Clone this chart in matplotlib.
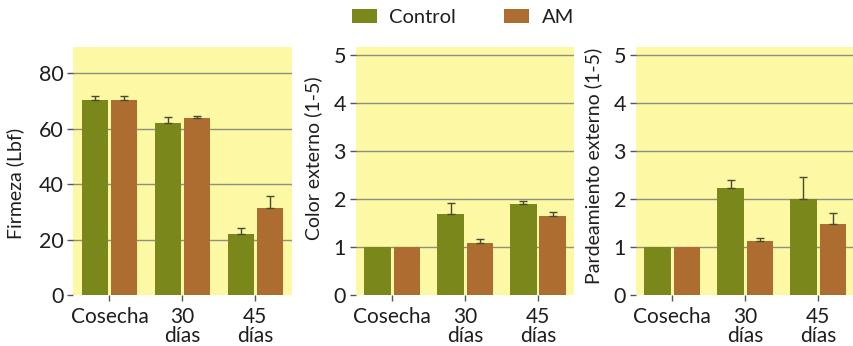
import numpy as np
import matplotlib
matplotlib.use('Agg')
import matplotlib.pyplot as plt
from matplotlib.patches import Patch

plt.rcParams['font.family'] = ['Lato', 'DejaVu Sans']

# categories and series
groups = ['Cosecha', '30\ndías', '45\ndías']
series = ['Control', 'AM']

firmeza_control = [70.4, 62.0, 21.9]
firmeza_control_err = [1.5, 2.1, 2.4]
firmeza_am = [70.4, 63.8, 31.2]
firmeza_am_err = [1.5, 0.8, 4.6]

color_control = [1.0, 1.69, 1.90]
color_control_err = [0.0, 0.22, 0.05]
color_am = [1.0, 1.09, 1.65]
color_am_err = [0.0, 0.07, 0.08]

pardeo_control = [1.0, 2.24, 2.0]
pardeo_control_err = [0.0, 0.16, 0.46]
pardeo_am = [1.0, 1.13, 1.49]
pardeo_am_err = [0.0, 0.06, 0.22]

panels = [
    ('Firmeza (Lbf)', firmeza_control, firmeza_control_err, firmeza_am, firmeza_am_err,
     [0, 20, 40, 60, 80], 89.4),
    ('Color externo (1-5)', color_control, color_control_err, color_am, color_am_err,
     [0, 1, 2, 3, 4, 5], 5.17),
    ('Pardeamiento externo (1-5)', pardeo_control, pardeo_control_err, pardeo_am, pardeo_am_err,
     [0, 1, 2, 3, 4, 5], 5.17),
]

GREEN = '#7a871b'
BROWN = '#ad6d30'
BG = '#fdf8a3'
GRID = '#8f8f80'
TXT = '#1e1e1e'

fig = plt.figure(figsize=(8.54, 3.46), dpi=100)
lefts = [0.0855, 0.4165, 0.7444]
# where each y label sits (axes coords)
label_pos = [(-0.222, 0.45), (-0.155, 0.55), (-0.155, 0.52)]
x = np.arange(len(groups))
w = 0.36
off = 0.2


def draw_err(ax, xs, vals, errs):
    vals = np.asarray(vals)
    errs = np.asarray(errs)
    m = errs > 0
    ax.errorbar(xs[m], vals[m], yerr=[np.zeros(m.sum()), errs[m]], fmt='none',
                ecolor='#4a4a30', elinewidth=1.0, capsize=3, capthick=1.0, zorder=3)


for left, lp, (ylabel, c, ce, a, ae, ticks, ytop) in zip(lefts, label_pos, panels):
    ax = fig.add_axes([left, 0.1474, 0.2562, 0.7168])
    ax.set_facecolor(BG)
    for s in ax.spines.values():
        s.set_visible(False)
    for t in ticks[1:]:
        ax.axhline(t, color=GRID, lw=1.0, zorder=1)
    ax.bar(x - off, c, w, color=GREEN, zorder=2)
    ax.bar(x + off, a, w, color=BROWN, zorder=2)
    draw_err(ax, x - off, c, ce)
    draw_err(ax, x + off, a, ae)
    ax.set_xlim(-0.5, 2.5)
    ax.set_ylim(0, ytop)
    ax.set_yticks(ticks)
    ax.set_xticks(x)
    ax.set_xticklabels(groups, linespacing=0.88, va='top')
    ax.tick_params(axis='y', length=4, width=1, color='#555555', pad=3,
                   labelsize=15.5, labelcolor=TXT)
    ax.tick_params(axis='x', length=4, width=1, color='#555555', pad=5,
                   labelsize=15, labelcolor=TXT)
    ax.set_ylabel(ylabel, fontsize=14, color=TXT)
    ax.yaxis.set_label_coords(*lp)

handles = [Patch(facecolor=GREEN, label=series[0]),
           Patch(facecolor=BROWN, label=series[1])]
fig.legend(handles=handles, loc='center', bbox_to_anchor=(0.542, 0.949), ncol=2,
           frameon=False, fontsize=14.5, handlelength=1.25, handleheight=0.72,
           handletextpad=0.6, columnspacing=2.4, labelcolor=TXT)

fig.savefig('out.png', dpi=100, facecolor='white')
